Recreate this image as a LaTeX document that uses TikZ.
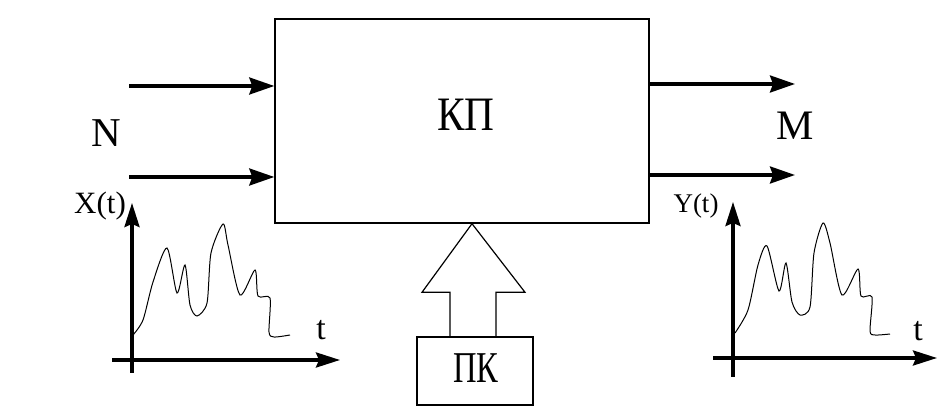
\documentclass[tikz,border=0pt]{standalone}
\usepackage{fontspec}
\setmainfont{Liberation Serif}
\usetikzlibrary{arrows.meta,calc}
\begin{document}
\begin{tikzpicture}[x=1pt,y=-1pt,
  boxst/.style={draw,line width=1.4pt,inner sep=0pt},
  flow/.style={line width=3.2pt,-{Stealth[length=25pt,width=17pt,inset=3pt]}},
  axis/.style={line width=3.2pt,-{Stealth[length=24pt,width=15pt,inset=3pt]}},
  sig/.style={line width=1pt,smooth,tension=0.45},
  lbl/.style={inner sep=0pt}]
\useasboundingbox (0,0) rectangle (938,419);
% main block
\node[boxst,minimum width=374pt,minimum height=204pt] (kp) at (462,121) {};
\node[lbl,font=\fontsize{48}{48}\selectfont] (kpt) at (466,115) {\scalebox{0.86}[1]{КП}};
% control block
\node[boxst,minimum width=116pt,minimum height=68pt] (pk) at (475,371) {};
\node[lbl,font=\fontsize{44}{44}\selectfont] (pkt) at (476,368) {\scalebox{0.74}[1]{ПК}};
% block arrow
\draw[line width=1.2pt] ($(pk.north)+(-25,0)$) -- ($(pk.north)+(-25,-44)$) -- ($(pk.north)+(-53,-44)$)
  -- (kp.south -| {$(pk.north)+(-3,0)$}) -- ($(pk.north)+(50,-44)$) -- ($(pk.north)+(21,-44)$) -- ($(pk.north)+(21,0)$);
% inputs
\coordinate (in1) at (129,86);
\coordinate (in2) at (129,177);
\draw[flow] (in1) -- (in1 -| kp.west);
\draw[flow] (in2) -- (in2 -| kp.west);
\node[lbl,font=\fontsize{41}{41}\selectfont] (n) at (106,133) {N};
% outputs
\coordinate (out1) at (795,84);
\coordinate (out2) at (795,175);
\draw[flow] (out1 -| kp.east) -- (out1);
\draw[flow] (out2 -| kp.east) -- (out2);
\node[lbl,font=\fontsize{42}{42}\selectfont] (m) at (795,126) {M};
% left graph
\coordinate (lxa) at (132,373);
\coordinate (lxb) at (132,203);
\coordinate (lha) at (112,360);
\coordinate (lhb) at (340,360);
\draw[axis] (lxa) -- (lxb);
\draw[axis] (lha) -- (lhb);
\draw[sig] plot coordinates {(133,335) (143,320) (153,282) (167,248) (177,293) (185,265) (190,305) (197,316) (207,303) (211,253) (223,224) (228,245) (240,295) (255,270) (258,296) (270,298) (269,332) (274,337) (290,335)};
\node[lbl,font=\fontsize{31}{31}\selectfont] (xt) at (100,206) {X(t)};
\node[lbl,font=\fontsize{34}{34}\selectfont] (tl) at (321,330) {t};
% right graph
\coordinate (rxa) at (733,377);
\coordinate (rxb) at (733,202);
\coordinate (rha) at (713,358);
\coordinate (rhb) at (937,358);
\draw[axis] (rxa) -- (rxb);
\draw[axis] (rha) -- (rhb);
\draw[sig] plot coordinates {(735,333) (748,310) (758,265) (767,246) (779,291) (786,263) (792,302) (800,315) (810,307) (814,253) (823,223) (830,243) (842,295) (858,269) (861,296) (872,297) (870,331) (875,335) (890,334)};
\node[lbl,font=\fontsize{27}{27}\selectfont] (yt) at (696,206) {Y(t)};
\node[lbl,font=\fontsize{34}{34}\selectfont] (tr) at (918,331) {t};
\end{tikzpicture}
\end{document}
